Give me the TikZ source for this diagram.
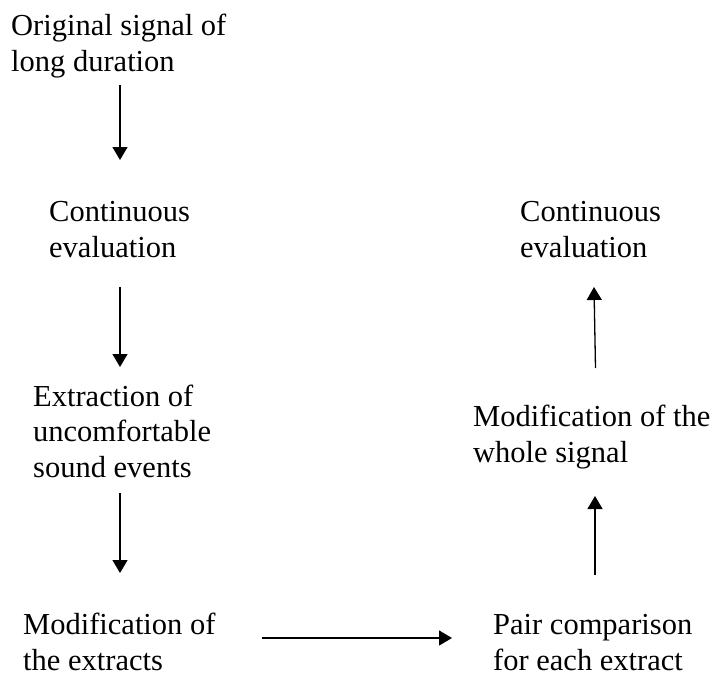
\documentclass[tikz,border=0pt]{standalone}
\usepackage{fontspec}
\setmainfont{Liberation Serif}
\usetikzlibrary{arrows.meta}
\begin{document}
\begin{tikzpicture}[x=1pt,y=-1pt,
  lbl/.style={anchor=base west, inner sep=0pt, align=left, font=\fontsize{30.5}{35.5}\selectfont},
  arr/.style={line width=1.3pt, -{Triangle[width=15pt,length=13pt]}}]
\useasboundingbox (0,0) rectangle (712,677);
\node[lbl] (orig) at (11,71) {Original signal of\\long duration};
\node[lbl] (cont1) at (49,257) {Continuous\\evaluation};
\node[lbl] (extr) at (33,477) {Extraction of\\uncomfortable\\sound events};
\node[lbl] (modx) at (23,670) {Modification of\\the extracts};
\node[lbl] (pair) at (493,670) {Pair comparison\\for each extract};
\node[lbl] (modw) at (473,462) {Modification of the\\whole signal};
\node[lbl] (cont2) at (520,257) {Continuous\\evaluation};
\coordinate (a1s) at (120,85);  \coordinate (a1e) at (120,160);
\coordinate (a2s) at (120,287); \coordinate (a2e) at (120,367);
\coordinate (a3s) at (120,493); \coordinate (a3e) at (120,573);
\coordinate (a4s) at (262,638); \coordinate (a4e) at (452,638);
\coordinate (a5s) at (595,575); \coordinate (a5e) at (595,496);
\coordinate (a6s) at (595.5,368); \coordinate (a6e) at (594,287);
\draw[arr] (a1s) -- (a1e);
\draw[arr] (a2s) -- (a2e);
\draw[arr] (a3s) -- (a3e);
\draw[arr] (a4s) -- (a4e);
\draw[arr] (a5s) -- (a5e);
\draw[arr] (a6s) -- (a6e);
\end{tikzpicture}
\end{document}
